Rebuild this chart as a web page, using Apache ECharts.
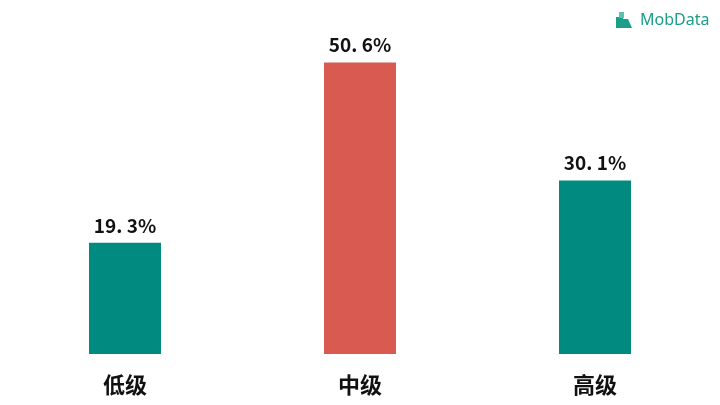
<!DOCTYPE html>
<html><head><meta charset="utf-8">
<script src="https://cdn.jsdelivr.net/npm/echarts@6/dist/echarts.min.js"></script>
<style>html,body{margin:0;padding:0;background:#fff}#c{width:720px;height:405px}</style>
</head><body><div id="c"></div>
<script>
const categories = ['低级', '中级', '高级'];
const values = [19.3, 50.6, 30.1];
const barColors = ['#008a80', '#d95a50', '#008a80'];

const chart = echarts.init(document.getElementById('c'));
chart.setOption({
  backgroundColor: '#fff',
  animation: false,
  grid: { left: 7.5, right: 7.5, top: 8.4, bottom: 51 },
  xAxis: {
    type: 'category', data: categories,
    axisLine: { show: false }, axisTick: { show: false },
    axisLabel: { margin: 20, fontSize: 22, fontWeight: 'bold', color: '#111',
      fontFamily: 'Noto Sans CJK SC' }
  },
  yAxis: { type: 'value', min: 0, max: 60, show: false, splitLine: { show: false } },
  series: [{
    type: 'bar', barWidth: 72,
    data: values.map((v, i) => ({ value: v, itemStyle: { color: barColors[i] } })),
    label: { show: true, position: 'top', distance: 8, fontSize: 19, color: '#111',
      fontFamily: 'Noto Sans CJK SC', fontWeight: 'bold',
      formatter: p => p.value.toFixed(1).replace('.', '. ') + '%' }
  }],
  graphic: [
    { type: 'rect', shape: { x: 616, y: 17, width: 7, height: 11 }, style: { fill: '#1a9e8a' } },
    { type: 'rect', shape: { x: 619, y: 12, width: 5, height: 6 }, style: { fill: '#5cc0ae' } },
    { type: 'polygon', shape: { points: [[623, 19], [628, 19], [632, 28], [623, 28]] }, style: { fill: '#1a9e8a' } },
    { type: 'text', left: 640, top: 12, style: { text: 'MobData', fontSize: 16, fill: '#1a9e8a',
      fontFamily: 'Noto Sans' } }
  ]
});
</script></body></html>
